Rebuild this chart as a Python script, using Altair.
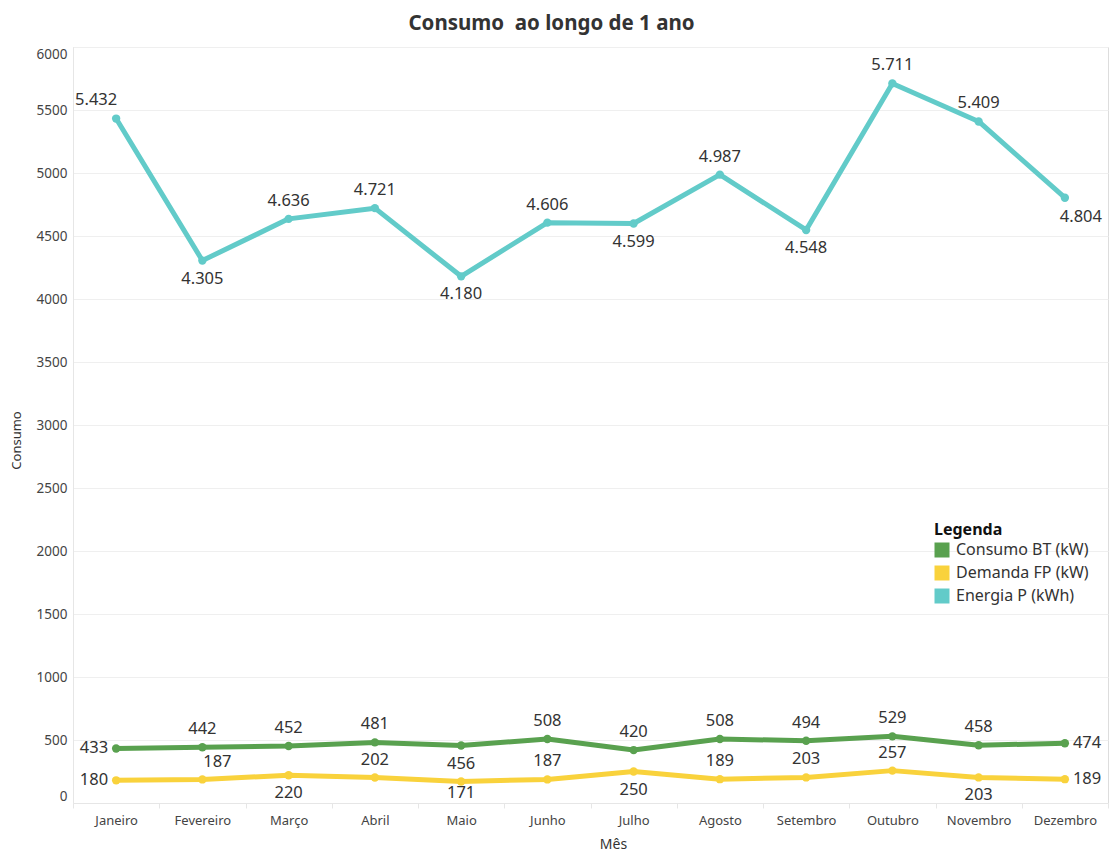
import altair as alt
import pandas as pd

# Months, series and monthly values
meses = ["Janeiro", "Fevereiro", "Março", "Abril", "Maio", "Junho",
         "Julho", "Agosto", "Setembro", "Outubro", "Novembro", "Dezembro"]
series = ["Consumo BT (kW)", "Demanda FP (kW)", "Energia P (kWh)"]
consumo_bt = [433, 442, 452, 481, 456, 508, 420, 508, 494, 529, 458, 474]
demanda_fp = [180, 187, 220, 202, 171, 187, 250, 189, 203, 257, 203, 189]
energia_p = [5432, 4305, 4636, 4721, 4180, 4606, 4599, 4987, 4548, 5711, 5409, 4804]
cores = ["#59A14F", "#F9D23C", "#62CBC9"]

# Side of each point on which its value label is written
lado_bt = ["left", "above", "above", "above", "below", "above",
           "above", "above", "above", "above", "above", "right"]
lado_fp = ["left", "above-right", "below", "above", "below-tight", "above",
           "below", "above", "above", "above", "below", "right"]
lado_ep = ["above-left", "below", "above", "above", "below", "above",
           "below", "above", "below", "above", "above", "below-right"]

offsets = {
    "above": dict(dx=0, dy=-18, align="center"),
    "below": dict(dx=0, dy=18, align="center"),
    "below-tight": dict(dx=0, dy=12, align="center"),
    "left": dict(dx=-8, dy=0, align="right"),
    "right": dict(dx=8, dy=0, align="left"),
    "above-left": dict(dx=-20, dy=-19, align="center"),
    "above-right": dict(dx=15, dy=-17, align="center"),
    "below-right": dict(dx=16, dy=19, align="center"),
}

FONT = "Noto Sans"
TXT = "#333333"

rows = []
for serie, valores, lados in zip(series, [consumo_bt, demanda_fp, energia_p],
                                 [lado_bt, lado_fp, lado_ep]):
    for mes, v, lado in zip(meses, valores, lados):
        rows.append({
            "Mês": mes,
            "Serie": serie,
            "Valor": v,
            "Rotulo": f"{v:,}".replace(",", "."),
            "Lado": lado,
        })
df = pd.DataFrame(rows)

x_enc = alt.X(
    "Mês:N", sort=meses, bandPosition=0.5,
    scale=alt.Scale(type="band", paddingInner=0, paddingOuter=0),
    axis=alt.Axis(
        title="Mês", labelAngle=0, tickBand="extent", tickSize=5,
        tickColor="#E6E6E6", domainColor="#E6E6E6", labelFont=FONT,
        labelFontSize=13, labelColor="#444444", labelPadding=6,
        titleFont=FONT, titleFontSize=14, titleFontWeight="normal",
        titleColor="#333333", titleX=540, titleY=34, titleAlign="center",
    ),
)
y_enc = alt.Y(
    "Valor:Q",
    scale=alt.Scale(domain=[0, 6000], nice=False),
    axis=alt.Axis(
        title="Consumo", values=list(range(0, 6001, 500)), format="d",
        ticks=False, grid=True, gridColor="#EFEFEF", domainColor="#E6E6E6",
        labelFlush=True, labelFont=FONT, labelFontSize=13.5,
        labelColor="#444444", labelPadding=6, titleFont=FONT,
        titleFontSize=13, titleFontWeight="normal", titleColor="#333333",
        titleY=393, titleX=-50,
    ),
)
cor_scale = alt.Scale(domain=series, range=cores)
legenda = alt.Legend(
    title="Legenda", orient="none", legendX=861, legendY=475,
    symbolType="square", symbolSize=225, symbolStrokeWidth=0,
    symbolOpacity=1,
    titleFont=FONT, titleFontSize=16, titleFontWeight="bold",
    titleColor="#111111", titlePadding=4, labelFont=FONT,
    labelFontSize=16, labelColor="#333333", labelOffset=6,
    rowPadding=7,
)

base = alt.Chart(df)

linhas = base.mark_line(strokeWidth=5, strokeCap="round", strokeJoin="round").encode(
    x=x_enc, y=y_enc,
    color=alt.Color("Serie:N", scale=cor_scale, legend=legenda),
    detail="Serie:N",
)

pontos = base.mark_circle(size=70, opacity=1).encode(
    x=x_enc, y=y_enc,
    color=alt.Color("Serie:N", scale=cor_scale, legend=legenda),
)

rotulos = []
for lado, off in offsets.items():
    rotulos.append(
        base.transform_filter(alt.datum.Lado == lado)
        .mark_text(font=FONT, fontSize=16.5, color=TXT, baseline="middle", **off)
        .encode(x=x_enc, y=y_enc, text="Rotulo:N")
    )

chart = alt.layer(linhas, pontos, *rotulos).properties(
    width=1035,
    height=756,
    title=alt.Title(
        "Consumo\u00a0 ao longo de 1 ano", font=FONT, fontSize=20.5,
        fontWeight="bold", color="#333333", anchor="middle", dx=-39,
        offset=13,
    ),
    autosize=alt.AutoSizeParams(type="none"),
    padding={"left": 73, "top": 47, "right": 6, "bottom": 50},
).configure_view(stroke=None).configure(background="white")

chart.save("out.html", embed_options={"renderer": "svg", "actions": False})
